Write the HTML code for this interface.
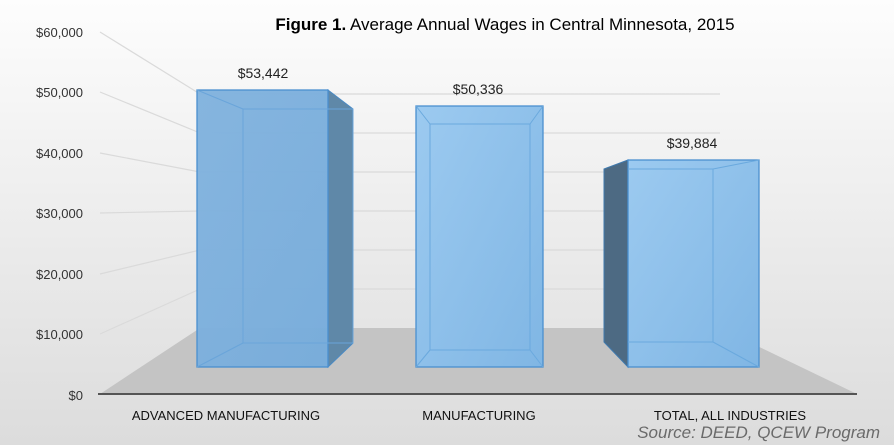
<!DOCTYPE html>
<html><head><meta charset="utf-8"><style>body{margin:0}svg{display:block;font-family:"Liberation Sans",sans-serif}</style></head>
<body>
<svg width="894" height="445" viewBox="0 0 894 445" xmlns="http://www.w3.org/2000/svg">
<defs>
<linearGradient id="bg" x1="0" y1="0" x2="0" y2="1"><stop offset="0" stop-color="#fdfdfd"/><stop offset="1" stop-color="#dcdcdc"/></linearGradient>
<linearGradient id="b1" x1="0" y1="0" x2="1" y2="1"><stop offset="0" stop-color="#82b3de"/><stop offset="1" stop-color="#77acdb"/></linearGradient>
<linearGradient id="b2" x1="0" y1="0" x2="1" y2="1"><stop offset="0" stop-color="#9ccaf0"/><stop offset="1" stop-color="#80b6e4"/></linearGradient>
</defs>
<rect width="894" height="445" fill="url(#bg)"/>
<polygon points="100,394 200,328 720,328 857,394" fill="#c4c4c4"/>
<g stroke="#dadada" stroke-width="1.2" fill="none">
<line x1="100" y1="32" x2="200" y2="94"/><line x1="200" y1="94" x2="720" y2="94"/>
<line x1="100" y1="92" x2="200" y2="133"/><line x1="200" y1="133" x2="720" y2="133"/>
<line x1="100" y1="153" x2="200" y2="172"/><line x1="200" y1="172" x2="720" y2="172"/>
<line x1="100" y1="213" x2="200" y2="211"/><line x1="200" y1="211" x2="720" y2="211"/>
<line x1="100" y1="274" x2="200" y2="250"/><line x1="200" y1="250" x2="720" y2="250"/>
<line x1="100" y1="334" x2="200" y2="289"/><line x1="200" y1="289" x2="720" y2="289"/>
</g>
<line x1="98" y1="394" x2="857" y2="394" stroke="#555" stroke-width="2"/>
<g font-size="13" fill="#333" text-anchor="end">
<text x="83" y="37">$60,000</text><text x="83" y="97">$50,000</text><text x="83" y="158">$40,000</text>
<text x="83" y="218">$30,000</text><text x="83" y="279">$20,000</text><text x="83" y="339">$10,000</text><text x="83" y="400">$0</text>
</g>
<!-- bar1 -->
<polygon points="328,90 353,109 353,343 328,367" fill="#5f88a8" stroke="#4a8ac4"/>
<rect x="197" y="90" width="131" height="277" fill="url(#b1)" fill-opacity="0.97" stroke="#4a8fcf" stroke-width="1.3"/>
<g stroke="#6aa5da" fill="none"><rect x="243" y="109" width="110" height="234"/><line x1="197" y1="90" x2="243" y2="109"/><line x1="197" y1="367" x2="243" y2="343"/></g>
<!-- bar2 -->
<rect x="416" y="106" width="127" height="261" fill="url(#b2)" stroke="#4a8fcf" stroke-width="1.3"/>
<g stroke="#6aa9de" fill="none"><rect x="430" y="124" width="100" height="226"/><line x1="416" y1="106" x2="430" y2="124"/><line x1="543" y1="106" x2="530" y2="124"/><line x1="416" y1="367" x2="430" y2="350"/><line x1="543" y1="367" x2="530" y2="350"/></g>
<!-- bar3 -->
<polygon points="604,169 628,160 628,367 604,342" fill="#4d6a83" stroke="#3f79ad"/>
<rect x="628" y="160" width="131" height="207" fill="url(#b2)" stroke="#4a8fcf" stroke-width="1.3"/>
<g stroke="#6aa9de" fill="none"><line x1="713" y1="169" x2="713" y2="342"/><line x1="628" y1="169" x2="713" y2="169"/><line x1="628" y1="342" x2="713" y2="342"/><line x1="759" y1="160" x2="713" y2="169"/><line x1="759" y1="367" x2="713" y2="342"/></g>
<g font-size="14" fill="#222" text-anchor="middle">
<text x="263" y="78">$53,442</text><text x="478" y="94">$50,336</text><text x="692" y="148">$39,884</text>
</g>
<g font-size="13" fill="#111" text-anchor="middle">
<text x="226" y="420">ADVANCED MANUFACTURING</text><text x="479" y="420">MANUFACTURING</text><text x="730" y="420">TOTAL, ALL INDUSTRIES</text>
</g>
<text x="505" y="30" font-size="17" text-anchor="middle" fill="#000"><tspan font-weight="bold">Figure 1.</tspan> Average Annual Wages in Central Minnesota, 2015</text>
<text x="880" y="438" font-size="17" font-style="italic" text-anchor="end" fill="#6a6a6a">Source: DEED, QCEW Program</text>
</svg>
</body></html>
